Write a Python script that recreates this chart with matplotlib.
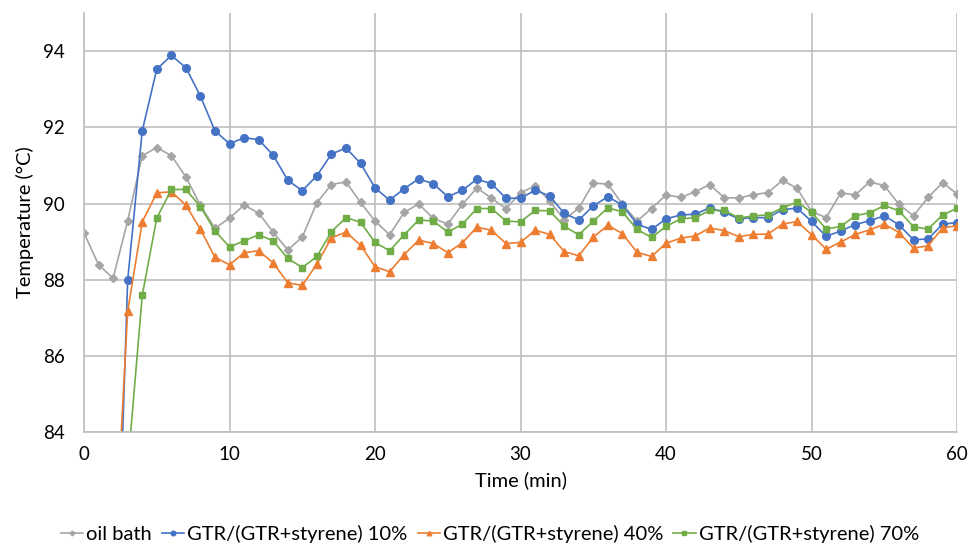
import matplotlib.pyplot as plt
import numpy as np

plt.rcParams['font.family'] = ['Lato', 'DejaVu Sans']

# time axis (min)
time = np.arange(0, 61)

oil_bath = [89.23, 88.39, 88.04, 89.55, 91.26, 91.47, 91.26, 90.70, 89.95, 89.35,
            89.62, 89.96, 89.75, 89.25, 88.78, 89.12, 90.02, 90.50, 90.57, 90.03,
            89.54, 89.18, 89.77, 89.99, 89.61, 89.46, 89.98, 90.41, 90.14, 89.87,
            90.28, 90.47, 90.06, 89.58, 89.88, 90.54, 90.51, 89.98, 89.54, 89.87,
            90.23, 90.16, 90.31, 90.50, 90.15, 90.15, 90.23, 90.29, 90.61, 90.40,
            89.79, 89.63, 90.28, 90.23, 90.57, 90.47, 89.98, 89.68, 90.16, 90.55,
            90.25]

gtr_10 = [np.nan, np.nan, 76.3, 87.99, 91.91, 93.53, 93.89, 93.57, 92.82, 91.91,
          91.57, 91.73, 91.68, 91.27, 90.61, 90.34, 90.73, 91.30, 91.46, 91.06,
          90.41, 90.09, 90.39, 90.65, 90.52, 90.18, 90.35, 90.64, 90.52, 90.14,
          90.14, 90.35, 90.20, 89.74, 89.57, 89.94, 90.18, 89.96, 89.46, 89.32,
          89.60, 89.70, 89.72, 89.89, 89.77, 89.60, 89.63, 89.63, 89.84, 89.88,
          89.53, 89.14, 89.28, 89.45, 89.55, 89.68, 89.44, 89.05, 89.07, 89.46,
          89.50]

gtr_40 = [np.nan, np.nan, 79.96, 87.17, 89.52, 90.28, 90.31, 89.96, 89.32, 88.59,
          88.39, 88.71, 88.76, 88.44, 87.92, 87.85, 88.41, 89.10, 89.25, 88.91,
          88.34, 88.21, 88.66, 89.04, 88.95, 88.71, 88.97, 89.38, 89.30, 88.95,
          88.98, 89.30, 89.19, 88.74, 88.63, 89.12, 89.43, 89.21, 88.72, 88.61,
          88.96, 89.09, 89.15, 89.36, 89.29, 89.13, 89.19, 89.20, 89.46, 89.53,
          89.18, 88.80, 88.99, 89.19, 89.31, 89.46, 89.24, 88.83, 88.89, 89.36,
          89.42]

gtr_70 = [np.nan, np.nan, np.nan, 83.05, 87.59, 89.62, 90.37, 90.37, 89.92, 89.28,
          88.86, 89.02, 89.18, 89.02, 88.56, 88.32, 88.61, 89.26, 89.63, 89.51,
          88.98, 88.76, 89.18, 89.57, 89.54, 89.25, 89.46, 89.87, 89.87, 89.54,
          89.52, 89.82, 89.81, 89.40, 89.18, 89.54, 89.89, 89.78, 89.32, 89.11,
          89.40, 89.60, 89.63, 89.82, 89.82, 89.62, 89.68, 89.70, 89.89, 90.04,
          89.77, 89.33, 89.40, 89.68, 89.76, 89.95, 89.81, 89.39, 89.33, 89.70,
          89.88]

labels = ['oil bath', 'GTR/(GTR+styrene) 10%', 'GTR/(GTR+styrene) 40%', 'GTR/(GTR+styrene) 70%']
colors = ['#A5A5A5', '#4472C4', '#ED7D31', '#70AD47']
markers = ['D', 'o', '^', 's']
msizes = [4, 5.5, 5.5, 5]

fig = plt.figure(figsize=(9.68, 5.46), dpi=100)
ax = fig.add_axes([0.0868, 0.2088, 0.902, 0.767])

for ys, lab, c, m, ms in zip([oil_bath, gtr_10, gtr_40, gtr_70], labels, colors, markers, msizes):
    ax.plot(time, ys, color=c, marker=m, markersize=ms, linewidth=1.2, label=lab)

ax.set_xlim(0, 60)
ax.set_ylim(84, 95)
ax.set_xticks(range(0, 61, 10))
ax.set_yticks(range(84, 95, 2))
ax.grid(True, color='#BFBFBF', linewidth=1.2)
ax.set_axisbelow(True)
for side in ['top', 'right']:
    ax.spines[side].set_visible(False)
for side in ['left', 'bottom']:
    ax.spines[side].set_color('#BFBFBF')
    ax.spines[side].set_linewidth(1.2)
ax.tick_params(length=0, labelsize=13.5, pad=10, colors='#000000')
ax.tick_params(axis='y', pad=14)
ax.set_xlabel('Time (min)', fontsize=14.5, labelpad=6)
ax.set_ylabel('Temperature (°C)', fontsize=14.5, labelpad=6)

ax.legend(loc='center', bbox_to_anchor=(0.465, -0.243), ncol=4, frameon=False,
          fontsize=14.5, handlelength=1.1, handletextpad=0.15, columnspacing=0.5,
          markerscale=0.6, borderpad=0.1)

fig.savefig('out.png', dpi=100)
